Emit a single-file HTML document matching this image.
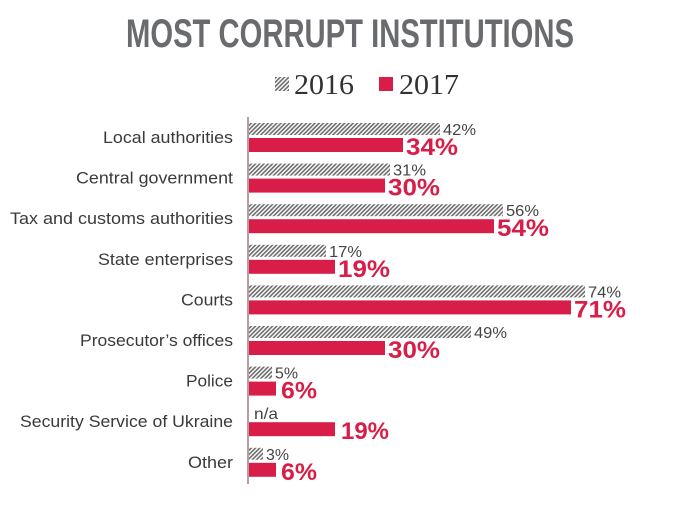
<!DOCTYPE html>
<html><head><meta charset="utf-8"><style>
html,body{margin:0;padding:0;background:#fff;}
svg{display:block;}
</style></head><body>
<svg width="690" height="508" viewBox="0 0 690 508" xmlns="http://www.w3.org/2000/svg">
<defs>
<pattern id="h" width="3" height="3" patternUnits="userSpaceOnUse" patternTransform="rotate(45)">
<rect width="3" height="3" fill="#fff"/><rect width="1.6" height="3" fill="#6d6d6d"/>
</pattern>
</defs>
<text x="350" y="47" text-anchor="middle" font-family="Liberation Sans, sans-serif" font-weight="bold" font-size="40" fill="#6a6b6e" textLength="448" lengthAdjust="spacingAndGlyphs">MOST CORRUPT INSTITUTIONS</text>
<rect x="275" y="77" width="14" height="14" fill="url(#h)"/>
<text x="294" y="94" font-family="Liberation Serif, serif" font-size="28" fill="#333" textLength="60" lengthAdjust="spacingAndGlyphs">2016</text>
<rect x="379" y="77" width="14" height="14" fill="#d81e48"/>
<text x="399" y="94" font-family="Liberation Serif, serif" font-size="28" fill="#333" textLength="60" lengthAdjust="spacingAndGlyphs">2017</text>
<line x1="248" y1="117" x2="248" y2="484" stroke="#8a5a60" stroke-width="1.2"/>
<g font-family="Liberation Sans, sans-serif">
<g transform="translate(0,0)">
<text x="103" y="143" font-size="17" fill="#3a3a3a" textLength="130" lengthAdjust="spacingAndGlyphs">Local authorities</text>
<rect x="249" y="123" width="191" height="12" fill="url(#h)"/>
<text x="443" y="135" font-size="16" fill="#444" textLength="33" lengthAdjust="spacingAndGlyphs">42%</text>
<rect x="249" y="138" width="154" height="14" fill="#d81e48"/>
<text x="406" y="155" font-size="24" font-weight="bold" fill="#d81e48" textLength="52" lengthAdjust="spacingAndGlyphs">34%</text>
</g>
<g transform="translate(0,40.6)">
<text x="76" y="143" font-size="17" fill="#3a3a3a" textLength="157" lengthAdjust="spacingAndGlyphs">Central government</text>
<rect x="249" y="123" width="141" height="12" fill="url(#h)"/>
<text x="393" y="135" font-size="16" fill="#444" textLength="33" lengthAdjust="spacingAndGlyphs">31%</text>
<rect x="249" y="138" width="136" height="14" fill="#d81e48"/>
<text x="388" y="155" font-size="24" font-weight="bold" fill="#d81e48" textLength="52" lengthAdjust="spacingAndGlyphs">30%</text>
</g>
<g transform="translate(0,81.2)">
<text x="10" y="143" font-size="17" fill="#3a3a3a" textLength="223" lengthAdjust="spacingAndGlyphs">Tax and customs authorities</text>
<rect x="249" y="123" width="254" height="12" fill="url(#h)"/>
<text x="506" y="135" font-size="16" fill="#444" textLength="33" lengthAdjust="spacingAndGlyphs">56%</text>
<rect x="249" y="138" width="245" height="14" fill="#d81e48"/>
<text x="497" y="155" font-size="24" font-weight="bold" fill="#d81e48" textLength="52" lengthAdjust="spacingAndGlyphs">54%</text>
</g>
<g transform="translate(0,121.8)">
<text x="98" y="143" font-size="17" fill="#3a3a3a" textLength="135" lengthAdjust="spacingAndGlyphs">State enterprises</text>
<rect x="249" y="123" width="77" height="12" fill="url(#h)"/>
<text x="329" y="135" font-size="16" fill="#444" textLength="33" lengthAdjust="spacingAndGlyphs">17%</text>
<rect x="249" y="138" width="86" height="14" fill="#d81e48"/>
<text x="338" y="155" font-size="24" font-weight="bold" fill="#d81e48" textLength="52" lengthAdjust="spacingAndGlyphs">19%</text>
</g>
<g transform="translate(0,162.4)">
<text x="181" y="143" font-size="17" fill="#3a3a3a" textLength="52" lengthAdjust="spacingAndGlyphs">Courts</text>
<rect x="249" y="123" width="336" height="12" fill="url(#h)"/>
<text x="588" y="135" font-size="16" fill="#444" textLength="33" lengthAdjust="spacingAndGlyphs">74%</text>
<rect x="249" y="138" width="322" height="14" fill="#d81e48"/>
<text x="574" y="155" font-size="24" font-weight="bold" fill="#d81e48" textLength="52" lengthAdjust="spacingAndGlyphs">71%</text>
</g>
<g transform="translate(0,203)">
<text x="80" y="143" font-size="17" fill="#3a3a3a" textLength="153" lengthAdjust="spacingAndGlyphs">Prosecutor’s offices</text>
<rect x="249" y="123" width="222" height="12" fill="url(#h)"/>
<text x="474" y="135" font-size="16" fill="#444" textLength="33" lengthAdjust="spacingAndGlyphs">49%</text>
<rect x="249" y="138" width="136" height="14" fill="#d81e48"/>
<text x="388" y="155" font-size="24" font-weight="bold" fill="#d81e48" textLength="52" lengthAdjust="spacingAndGlyphs">30%</text>
</g>
<g transform="translate(0,243.6)">
<text x="186" y="143" font-size="17" fill="#3a3a3a" textLength="47" lengthAdjust="spacingAndGlyphs">Police</text>
<rect x="249" y="123" width="23" height="12" fill="url(#h)"/>
<text x="275" y="135" font-size="16" fill="#444" textLength="23" lengthAdjust="spacingAndGlyphs">5%</text>
<rect x="249" y="138" width="27" height="14" fill="#d81e48"/>
<text x="281" y="155" font-size="24" font-weight="bold" fill="#d81e48" textLength="36" lengthAdjust="spacingAndGlyphs">6%</text>
</g>
<g transform="translate(0,284.2)">
<text x="20" y="143" font-size="17" fill="#3a3a3a" textLength="213" lengthAdjust="spacingAndGlyphs">Security Service of Ukraine</text>
<text x="254" y="135" font-size="16" fill="#444" textLength="24" lengthAdjust="spacingAndGlyphs">n/a</text>
<rect x="249" y="138" width="86" height="14" fill="#d81e48"/>
<text x="341" y="155" font-size="24" font-weight="bold" fill="#d81e48" textLength="48" lengthAdjust="spacingAndGlyphs">19%</text>
</g>
<g transform="translate(0,324.8)">
<text x="188" y="143" font-size="17" fill="#3a3a3a" textLength="45" lengthAdjust="spacingAndGlyphs">Other</text>
<rect x="249" y="123" width="14" height="12" fill="url(#h)"/>
<text x="266" y="135" font-size="16" fill="#444" textLength="23" lengthAdjust="spacingAndGlyphs">3%</text>
<rect x="249" y="138" width="27" height="14" fill="#d81e48"/>
<text x="281" y="155" font-size="24" font-weight="bold" fill="#d81e48" textLength="36" lengthAdjust="spacingAndGlyphs">6%</text>
</g>
</g>
</svg>
</body></html>
